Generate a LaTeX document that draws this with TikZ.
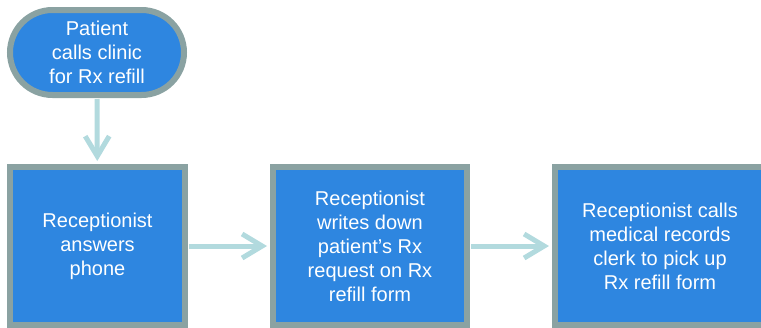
\documentclass[tikz,border=0pt]{standalone}
\usepackage{fontspec}
\setmainfont{Liberation Sans}
\usetikzlibrary{arrows.meta}
\definecolor{stepblue}{RGB}{46,134,224}
\definecolor{stepgray}{RGB}{138,162,162}
\definecolor{flowteal}{RGB}{178,218,222}

\begin{document}
\begin{tikzpicture}[x=1pt,y=-1pt]
\tikzset{StepStyle/.style={draw=stepgray,fill=stepblue,line width=6pt,text=white,align=center,inner sep=0,font=\fontsize{20}{24}\selectfont}}
\tikzset{StartStyle/.style={StepStyle,rounded corners=42.5pt,minimum width=174pt,minimum height=85pt}}
\tikzset{FlowStyle/.style={draw=flowteal,line width=5pt,-{Straight Barb[length=20pt,width=24pt]},shorten <=1pt,shorten >=3pt}}
\useasboundingbox (0,0) rectangle (761,327);
\clip (0,0) rectangle (761,327);
% start and steps
\node[StartStyle] (call) at (97,52.5) {Patient\\calls clinic\\for Rx refill};
\node[StepStyle,minimum width=175pt,minimum height=158pt] (answer) at (97.5,246) {Receptionist\\answers\\phone};
\node[StepStyle,minimum width=194pt,minimum height=158pt] (write) at (370,246) {Receptionist\\writes down\\patient’s Rx\\request on Rx\\refill form};
\node[StepStyle,minimum width=210pt,minimum height=158pt] (clerk) at (660,246) {Receptionist calls\\medical records\\clerk to pick up\\Rx refill form};
% flow
\draw[FlowStyle] (call) -- (answer);
\draw[FlowStyle] (answer) -- (write);
\draw[FlowStyle] (write) -- (clerk);
\end{tikzpicture}
\end{document}
